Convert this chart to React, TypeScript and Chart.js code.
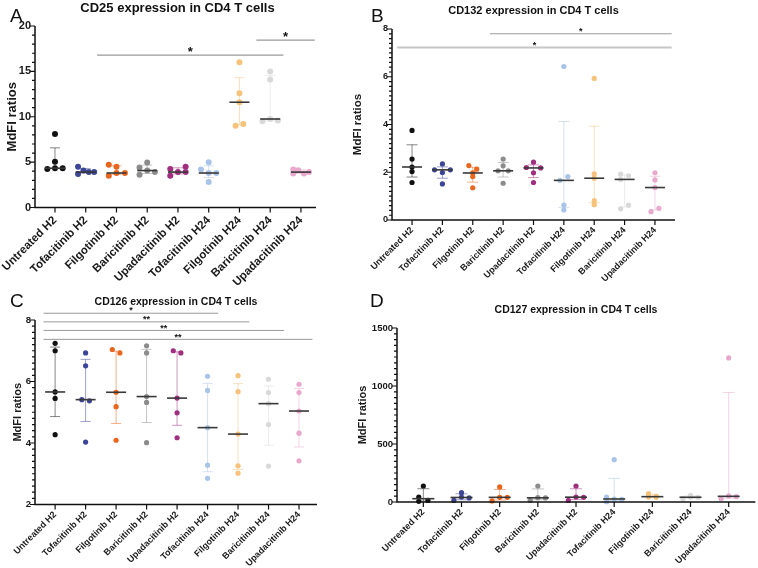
import React, { useEffect, useRef } from 'react';
import { Chart, registerables } from 'chart.js';

Chart.register(...registerables);

const FONT = "'Liberation Sans', Arial, Helvetica, sans-serif";

const groups = [
  'Untreated H2',
  'Tofacitinib H2',
  'Filgotinib H2',
  'Baricitinib H2',
  'Upadacitinib H2',
  'Tofacitinib H24',
  'Filgotinib H24',
  'Baricitinib H24',
  'Upadacitinib H24',
];

const groupColors = [
  '#111111',
  '#3d4696',
  '#e8661d',
  '#8c8c8c',
  '#a12f80',
  '#a9c4e8',
  '#f6c27c',
  '#d9d9d9',
  '#e8a9cd',
];

// CD25 — MdFI ratios per donor
const cd25Values = [
  [8.1, 5.05, 4.33, 4.33, 4.25],
  [4.5, 4.07, 3.7, 3.9, 3.9],
  [4.7, 4.5, 3.5, 3.8, 3.8],
  [4.4, 4.95, 3.6, 4.07, 3.9],
  [4.25, 3.5, 3.9, 3.9, 4.5],
  [4.2, 5.0, 3.8, 3.8, 2.8],
  [16.0, 12.6, 11.6, 9.0, 9.2],
  [15.0, 14.1, 9.75, 9.5, 9.6],
  [4.2, 3.75, 4.1, 3.75, 3.9],
];
const cd25Lanes = [
  [0, 0, 0, 1, -1],
  [-1, -0.3, -1, 0.4, 1.1],
  [-1, 0, -1, 0, 1.1],
  [-1, 0, -1, 0, 1],
  [-1, -1, 0, 1, 1],
  [-1, 0, 0, 1, 0],
  [0, 0, 0, -0.5, 0.5],
  [0, 0, 0, -1, 1],
  [-1, -1, -0.35, 0.4, 1.05],
];
const cd25Sig = [
  { from: 1.37, to: 7.43, y: 16.8, label: '*' },
  { from: 6.55, to: 8.45, y: 18.45, label: '*' },
];

// CD132
const cd132Values = [
  [3.75, 2.55, 2.22, 2.03, 1.57],
  [2.1, 2.35, 1.99, 2.1, 1.51],
  [2.28, 2.13, 1.97, 1.82, 1.35],
  [2.55, 2.27, 2.06, 2.06, 1.54],
  [2.42, 2.2, 2.18, 1.98, 1.57],
  [6.43, 1.82, 1.66, 0.62, 0.42],
  [5.93, 1.93, 1.75, 0.81, 0.64],
  [1.92, 1.85, 1.7, 0.62, 0.47],
  [1.98, 1.68, 1.36, 0.49, 0.35],
];
const cd132Lanes = [
  [0, 0, 0, 0, 0],
  [-1, 0, 0, 1, 0],
  [-0.5, 0.5, 0, 0, 0],
  [0, 0, -0.65, 0.65, 0],
  [0, -0.9, 0.9, 0, 0],
  [0, 0.5, -0.5, 0, 0],
  [0, 0, 0, 0, 0],
  [-0.5, 0.5, -0.5, 0.5, -0.5],
  [0, 0, 0, 0.5, -0.5],
];
const cd132Sig = [
  { from: 2.57, to: 8.55, y: 7.8, label: '*' },
  { from: -0.49, to: 8.55, y: 7.22, label: '*' },
];

// CD126
const cd126Values = [
  [7.24, 7.0, 5.66, 5.45, 4.27],
  [6.93, 6.51, 5.41, 5.37, 4.03],
  [7.04, 6.93, 5.65, 5.18, 4.09],
  [7.16, 6.93, 5.51, 5.32, 4.01],
  [7.0, 6.93, 5.46, 4.98, 4.17],
  [6.17, 5.71, 4.5, 3.28, 2.85],
  [6.19, 5.67, 4.29, 3.26, 3.02],
  [6.07, 5.64, 5.28, 4.6, 3.25],
  [5.91, 5.64, 5.04, 4.32, 3.42],
];
const cd126Lanes = [
  [0, 0, 0, 0, 0],
  [0, 0, -0.5, 0.5, 0],
  [-0.5, 0.5, 0, 0, 0],
  [0, 0, 0, 0, 0],
  [-0.5, 0.5, 0, 0, 0],
  [0, 0, 0, 0, 0],
  [0, 0, 0, 0, 0],
  [0, 0, 0, 0, 0],
  [0, 0, 0, 0, 0],
];
const cd126Sig = [
  { from: -0.38, to: 5.35, y: 8.22, label: '*' },
  { from: -0.38, to: 6.37, y: 7.94, label: '**' },
  { from: -0.38, to: 7.51, y: 7.66, label: '**' },
  { from: -0.38, to: 8.44, y: 7.37, label: '**' },
];

// CD127
const cd127Values = [
  [138, 43, 14, 6],
  [80, 43, 14, 35],
  [130, 40, 40, 9],
  [138, 37, 35, 14],
  [138, 43, 40, 14],
  [365, 43, 26, 23, 3],
  [72, 49, 43, 40],
  [57, 42, 40, 29],
  [1242, 52, 46, 29],
];
const cd127Lanes = [
  [0, -0.6, 0.6, -0.6],
  [0, 0, -1, 1],
  [0, 0, 1, -1],
  [0, 0, 1, -1],
  [0, 0, 1, -1],
  [0, -1, 0, 1, -1],
  [-0.5, 0.5, -0.5, 0.5],
  [0, 0, 1, -1],
  [0, 0, 1, -1],
];
const cd127Sig: { from: number; to: number; y: number; label: string }[] = [];

type Sig = { from: number; to: number; y: number; label: string };

interface PanelSpec {
  values: number[][];
  lanes: number[][];
  sig: Sig[];
  yMin: number;
  yMax: number;
  yStep: number;
  yMinor: number;
  xMin: number;
  xMax: number;
  box: { left: number; top: number; width: number; height: number };
  area: { left: number; top: number; right: number; bottom: number };
  laneWidth: number;
  pointRadius: number;
  medianHalf: number;
  capHalf: number;
  xFont: number;
  yFont: number;
  titleFont: number;
  titlePad: number;
  xPad: number;
  sigFont: number;
  sigGap: number;
  sigStyles: { width: number; color: string }[];
}

function quantile(sorted: number[], p: number) {
  const n = sorted.length;
  const pos = (n + 1) * p;
  if (pos <= 1) return sorted[0];
  if (pos >= n) return sorted[n - 1];
  const lo = Math.floor(pos);
  const frac = pos - lo;
  return sorted[lo - 1] + frac * (sorted[lo] - sorted[lo - 1]);
}

function withAlpha(hex: string, a: number) {
  const r = parseInt(hex.slice(1, 3), 16);
  const g = parseInt(hex.slice(3, 5), 16);
  const b = parseInt(hex.slice(5, 7), 16);
  return `rgba(${r},${g},${b},${a})`;
}

function Panel({ spec }: { spec: PanelSpec }) {
  const ref = useRef<HTMLCanvasElement>(null);

  useEffect(() => {
    const canvas = ref.current;
    if (!canvas) return;
    const { box, area } = spec;

    const stats = spec.values.map((v) => {
      const s = [...v].sort((a, b) => a - b);
      return { q1: quantile(s, 0.25), med: quantile(s, 0.5), q3: quantile(s, 0.75) };
    });

    const datasets = spec.values.map((vals, gi) => ({
      label: groups[gi],
      data: vals.map((y, k) => ({ x: gi + spec.lanes[gi][k] * spec.laneWidth, y })),
      backgroundColor: groupColors[gi],
      borderWidth: 0,
      pointRadius: spec.pointRadius,
      pointHoverRadius: spec.pointRadius,
      clip: false as const,
    }));

    const marks = {
      id: 'groupMarks',
      beforeDatasetsDraw(chart: any) {
        const { ctx, scales } = chart;
        const x = scales.x;
        const y = scales.y;
        ctx.save();
        ctx.lineWidth = 1;
        stats.forEach((st, gi) => {
          const px = x.getPixelForValue(gi);
          const p1 = y.getPixelForValue(st.q1);
          const p3 = y.getPixelForValue(st.q3);
          ctx.strokeStyle = withAlpha(groupColors[gi], 0.5);
          ctx.beginPath();
          ctx.moveTo(px, p1);
          ctx.lineTo(px, p3);
          ctx.moveTo(px - spec.capHalf, p1);
          ctx.lineTo(px + spec.capHalf, p1);
          ctx.moveTo(px - spec.capHalf, p3);
          ctx.lineTo(px + spec.capHalf, p3);
          ctx.stroke();
        });
        ctx.restore();
      },
      afterDatasetsDraw(chart: any) {
        const { ctx, scales } = chart;
        const x = scales.x;
        const y = scales.y;
        ctx.save();
        ctx.lineWidth = 1.6;
        ctx.strokeStyle = '#383838';
        stats.forEach((st, gi) => {
          const px = x.getPixelForValue(gi);
          const pm = y.getPixelForValue(st.med);
          ctx.beginPath();
          ctx.moveTo(px - spec.medianHalf, pm);
          ctx.lineTo(px + spec.medianHalf, pm);
          ctx.stroke();
        });
        ctx.restore();
      },
      afterDraw(chart: any) {
        const { ctx, scales, chartArea: a } = chart;
        const x = scales.x;
        const y = scales.y;
        ctx.save();
        // axes
        ctx.strokeStyle = '#111';
        ctx.lineWidth = 1.5;
        ctx.beginPath();
        ctx.moveTo(a.left, a.top);
        ctx.lineTo(a.left, a.bottom);
        ctx.lineTo(a.right, a.bottom);
        ctx.stroke();
        // y ticks, major and minor
        ctx.lineWidth = 1.2;
        const n = Math.round((spec.yMax - spec.yMin) / spec.yMinor);
        const per = Math.round(spec.yStep / spec.yMinor);
        ctx.beginPath();
        for (let i = 0; i <= n; i++) {
          const v = spec.yMin + i * spec.yMinor;
          const py = y.getPixelForValue(v);
          const len = i % per === 0 ? 5 : 3;
          ctx.moveTo(a.left - len, py);
          ctx.lineTo(a.left, py);
        }
        // x ticks
        groups.forEach((_, gi) => {
          const px = x.getPixelForValue(gi);
          ctx.moveTo(px, a.bottom);
          ctx.lineTo(px, a.bottom + 5);
        });
        ctx.stroke();
        // significance bars
        spec.sig.forEach((s, si) => {
          const st = spec.sigStyles[si] || spec.sigStyles[0];
          const x1 = x.getPixelForValue(s.from);
          const x2 = x.getPixelForValue(s.to);
          const py = y.getPixelForValue(s.y);
          ctx.strokeStyle = st.color;
          ctx.lineWidth = st.width;
          ctx.beginPath();
          ctx.moveTo(x1, py);
          ctx.lineTo(x2, py);
          ctx.stroke();
          ctx.fillStyle = '#111';
          ctx.font = `bold ${spec.sigFont}px ${FONT}`;
          ctx.textAlign = 'center';
          ctx.textBaseline = 'alphabetic';
          ctx.fillText(s.label, (x1 + x2) / 2, py + spec.sigFont * 0.57 - spec.sigGap);
        });
        ctx.restore();
      },
    };

    const chart = new Chart(canvas, {
      type: 'scatter',
      data: { datasets: datasets as any },
      options: {
        responsive: false,
        animation: false,
        devicePixelRatio: 1,
        layout: {
          padding: { left: 0, top: area.top, right: box.width - area.right, bottom: 0 },
        },
        plugins: {
          legend: { display: false },
          tooltip: { enabled: false },
          title: { display: false },
        },
        scales: {
          x: {
            type: 'linear',
            min: spec.xMin,
            max: spec.xMax,
            grid: { display: false, drawTicks: false },
            border: { display: false },
            afterBuildTicks: (s: any) => {
              s.ticks = groups.map((_, i) => ({ value: i }));
            },
            afterFit: (s: any) => {
              s.height = box.height - area.bottom;
              s.paddingLeft = 0;
              s.paddingRight = 0;
            },
            ticks: {
              autoSkip: false,
              minRotation: 45,
              maxRotation: 45,
              padding: spec.xPad,
              color: '#1a1a1a',
              font: { family: FONT, size: spec.xFont, weight: 'bold' },
              callback: (v: any) => groups[Math.round(Number(v))] ?? '',
            },
          },
          y: {
            type: 'linear',
            min: spec.yMin,
            max: spec.yMax,
            grid: { display: false, drawTicks: false },
            border: { display: false },
            afterBuildTicks: (s: any) => {
              const t = [];
              for (let v = spec.yMin; v <= spec.yMax + 1e-9; v += spec.yStep) t.push({ value: v });
              s.ticks = t;
            },
            afterFit: (s: any) => {
              s.width = area.left;
              s.paddingTop = 0;
              s.paddingBottom = 0;
            },
            ticks: {
              padding: 4,
              color: '#1a1a1a',
              font: { family: FONT, size: spec.yFont, weight: 'bold' },
              callback: (v: any) => String(v),
            },
            title: {
              display: true,
              text: 'MdFI ratios',
              color: '#1a1a1a',
              font: { family: FONT, size: spec.titleFont, weight: 'bold' },
              padding: { top: spec.titlePad, bottom: 0 },
            },
          },
        },
      } as any,
      plugins: [marks],
    });

    return () => chart.destroy();
  }, [spec]);

  return (
    <canvas
      ref={ref}
      width={spec.box.width}
      height={spec.box.height}
      style={{
        position: 'absolute',
        left: spec.box.left,
        top: spec.box.top,
        width: spec.box.width,
        height: spec.box.height,
      }}
    />
  );
}

const panelA: PanelSpec = {
  values: cd25Values,
  lanes: cd25Lanes,
  sig: cd25Sig,
  yMin: 0,
  yMax: 20,
  yStep: 5,
  yMinor: 1,
  xMin: -0.65,
  xMax: 8.49,
  box: { left: 0, top: 0, width: 345, height: 288 },
  area: { left: 35, top: 26, right: 316, bottom: 207.5 },
  laneWidth: 0.25,
  pointRadius: 3,
  medianHalf: 10,
  capHalf: 5,
  xFont: 11.5,
  yFont: 11,
  titleFont: 13,
  titlePad: 4.4,
  xPad: 6,
  sigFont: 13,
  sigGap: 6.5,
  sigStyles: [{ width: 1.2, color: '#9a9a9a' }],
};

const panelB: PanelSpec = {
  values: cd132Values,
  lanes: cd132Lanes,
  sig: cd132Sig,
  yMin: 0,
  yMax: 8,
  yStep: 2,
  yMinor: 0.2,
  xMin: -0.66,
  xMax: 8.66,
  box: { left: 345, top: 0, width: 413, height: 288 },
  area: { left: 47, top: 29, right: 330, bottom: 220 },
  laneWidth: 0.26,
  pointRadius: 2.6,
  medianHalf: 10,
  capHalf: 5.5,
  xFont: 9,
  yFont: 9,
  titleFont: 11.5,
  titlePad: 6.1,
  xPad: 5,
  sigFont: 9,
  sigGap: 5,
  sigStyles: [
    { width: 1, color: '#9a9a9a' },
    { width: 2, color: '#c6c6c6' },
  ],
};

const panelC: PanelSpec = {
  values: cd126Values,
  lanes: cd126Lanes,
  sig: cd126Sig,
  yMin: 2,
  yMax: 8,
  yStep: 2,
  yMinor: 0.2,
  xMin: -0.66,
  xMax: 8.59,
  box: { left: 0, top: 288, width: 345, height: 280 },
  area: { left: 35, top: 32, right: 317, bottom: 216.5 },
  laneWidth: 0.25,
  pointRadius: 2.6,
  medianHalf: 10,
  capHalf: 5,
  xFont: 9,
  yFont: 9.5,
  titleFont: 11,
  titlePad: 11.7,
  xPad: 5,
  sigFont: 9,
  sigGap: 5,
  sigStyles: [{ width: 1, color: '#9a9a9a' }],
};

const panelD: PanelSpec = {
  values: cd127Values,
  lanes: cd127Lanes,
  sig: cd127Sig,
  yMin: 0,
  yMax: 1500,
  yStep: 500,
  yMinor: 50,
  xMin: -0.69,
  xMax: 8.7,
  box: { left: 345, top: 288, width: 413, height: 280 },
  area: { left: 52, top: 40, right: 412, bottom: 214 },
  laneWidth: 0.2,
  pointRadius: 2.6,
  medianHalf: 11,
  capHalf: 6,
  xFont: 9,
  yFont: 9.5,
  titleFont: 11,
  titlePad: 11.4,
  xPad: 5,
  sigFont: 9,
  sigGap: 5,
  sigStyles: [{ width: 1, color: '#9a9a9a' }],
};

const headings = [
  { text: 'CD25 expression in CD4 T cells', x: 177.5, top: 1.3, size: 13 },
  { text: 'CD132 expression in CD4 T cells', x: 533.5, top: 4.6, size: 11 },
  { text: 'CD126 expression in CD4 T cells', x: 176, top: 295.6, size: 10.5 },
  { text: 'CD127 expression in CD4 T cells', x: 576, top: 303.6, size: 10.5 },
];

const letters = [
  { text: 'A', left: 10, top: 5.8 },
  { text: 'B', left: 371, top: 5.8 },
  { text: 'C', left: 10, top: 290.8 },
  { text: 'D', left: 370, top: 290.8 },
];

export default function App() {
  return (
    <div
      style={{
        position: 'absolute',
        left: 0,
        top: 0,
        width: 758,
        height: 568,
        background: '#ffffff',
        overflow: 'hidden',
        fontFamily: FONT,
      }}
    >
      <Panel spec={panelA} />
      <Panel spec={panelB} />
      <Panel spec={panelC} />
      <Panel spec={panelD} />
      {headings.map((h) => (
        <div
          key={h.text}
          style={{
            position: 'absolute',
            left: h.x,
            top: h.top,
            transform: 'translateX(-50%)',
            whiteSpace: 'nowrap',
            fontSize: h.size,
            lineHeight: 1,
            fontWeight: 'bold',
            color: '#111',
          }}
        >
          {h.text}
        </div>
      ))}
      {letters.map((l) => (
        <div
          key={l.text}
          style={{
            position: 'absolute',
            left: l.left,
            top: l.top,
            fontSize: 19,
            lineHeight: 1,
            color: '#111',
          }}
        >
          {l.text}
        </div>
      ))}
    </div>
  );
}
